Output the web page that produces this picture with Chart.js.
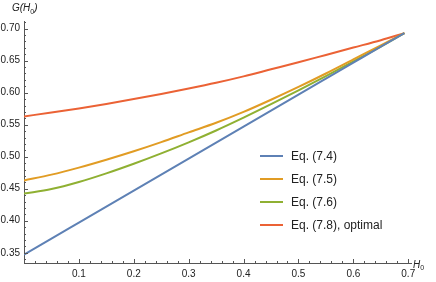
<!DOCTYPE html>
<html>
<head>
<meta charset="utf-8">
<script src="https://cdn.jsdelivr.net/npm/chart.js@4.4.0/dist/chart.umd.min.js"></script>
<style>
  html, body { margin: 0; padding: 0; background: #fff; }
</style>
</head>
<body>
<canvas id="chartG" width="436" height="282"></canvas>
<script>
// values
var h0 = [0, 0.05, 0.1, 0.15, 0.2, 0.25, 0.3, 0.35, 0.4, 0.45, 0.5, 0.55, 0.6, 0.65, 0.693];
var eq74 = [0.347, 0.372, 0.397, 0.422, 0.447, 0.472, 0.497, 0.522, 0.547, 0.572, 0.597, 0.622, 0.647, 0.672, 0.693];
var eq75 = [0.463, 0.472, 0.483, 0.4953, 0.5085, 0.5228, 0.538, 0.553, 0.570, 0.589, 0.609, 0.630, 0.652, 0.674, 0.693];
var eq76 = [0.4425, 0.4495, 0.4605, 0.474, 0.489, 0.5052, 0.5225, 0.541, 0.561, 0.582, 0.6038, 0.626, 0.6488, 0.672, 0.693];
var eq78 = [0.563, 0.569, 0.5755, 0.5825, 0.590, 0.598, 0.6065, 0.6155, 0.6255, 0.6365, 0.6475, 0.659, 0.6705, 0.682, 0.693];
var labels = ['Eq. (7.4)', 'Eq. (7.5)', 'Eq. (7.6)', 'Eq. (7.8), optimal'];
var colors = ['#5e81b5', '#e19c24', '#8fb032', '#eb6235'];

function pts(ys) {
  return h0.map(function (x, i) { return { x: x, y: ys[i] }; });
}

var axisColor = '#555';
var textColor = '#222';
var fontFam = 'Liberation Sans, Arial, sans-serif';

// inward ticks, axis titles and the inset legend
var decor = {
  id: 'decor',
  afterDraw: function (chart) {
    var c = chart.ctx, a = chart.chartArea;
    var xs = chart.scales.x, ys = chart.scales.y;
    c.save();
    c.strokeStyle = axisColor;
    c.lineWidth = 1;
    c.beginPath();
    for (var i = 1; i <= 35; i++) {
      var px = Math.round(xs.getPixelForValue(i * 0.02)) + 0.5;
      var len = (i % 5 === 0) ? 4 : 2;
      c.moveTo(px, a.bottom);
      c.lineTo(px, a.bottom - len);
    }
    for (var j = 34; j <= 71; j++) {
      var py = Math.round(ys.getPixelForValue(j * 0.01)) + 0.5;
      var l2 = (j % 5 === 0) ? 4 : 2;
      c.moveTo(a.left, py);
      c.lineTo(a.left + l2, py);
    }
    c.stroke();

    // axis titles
    c.fillStyle = textColor;
    c.textBaseline = 'alphabetic';
    c.textAlign = 'left';
    function sub(x, y, main, s) {
      c.font = 'italic 10px ' + fontFam;
      c.fillText(main, x, y);
      x += c.measureText(main).width;
      c.font = '7px ' + fontFam;
      c.fillText(s, x, y + 2.5);
      return x + c.measureText(s).width;
    }
    c.font = 'italic 10px ' + fontFam;
    c.fillText('G(', 12, 11);
    var nx = sub(12 + c.measureText('G(').width, 11, 'H', '0');
    c.font = 'italic 10px ' + fontFam;
    c.fillText(')', nx, 11);
    sub(413, 267.5, 'H', '0');

    // legend
    c.font = '12px ' + fontFam;
    c.textBaseline = 'middle';
    chart.data.datasets.forEach(function (ds, k) {
      var y = 156 + k * 23;
      c.strokeStyle = ds.borderColor;
      c.lineWidth = 2;
      c.beginPath();
      c.moveTo(260, y);
      c.lineTo(283, y);
      c.stroke();
      c.fillStyle = textColor;
      c.fillText(ds.label, 291, y + 0.5);
    });
    c.restore();
  }
};

var ctx = document.getElementById('chartG').getContext('2d');
var myChart = new Chart(ctx, {
  type: 'line',
  data: {
    datasets: [0, 1, 2, 3].map(function (k) {
      return {
        label: labels[k],
        data: pts([eq74, eq75, eq76, eq78][k]),
        borderColor: colors[k],
        borderWidth: 2,
        pointRadius: 0,
        fill: false,
        cubicInterpolationMode: 'monotone'
      };
    })
  },
  options: {
    responsive: false,
    animation: false,
    layout: { padding: { left: 0, top: 21, right: 25, bottom: 0 } },
    plugins: { legend: { display: false }, tooltip: { enabled: false } },
    scales: {
      x: {
        type: 'linear',
        min: 0,
        max: 0.705,
        afterFit: function (s) { s.height = 19; },
        grid: { display: false, drawTicks: false },
        border: { display: true, color: axisColor, width: 1 },
        ticks: {
          stepSize: 0.1,
          includeBounds: false,
          padding: 5,
          maxRotation: 0,
          autoSkip: false,
          color: textColor,
          font: { family: fontFam, size: 10 },
          callback: function (v) { return v < 0.05 ? '' : v.toFixed(1); }
        }
      },
      y: {
        min: 0.334,
        max: 0.712,
        afterFit: function (s) { s.width = 24; },
        grid: { display: false, drawTicks: false },
        border: { display: true, color: axisColor, width: 1 },
        ticks: {
          stepSize: 0.05,
          includeBounds: false,
          padding: 4,
          autoSkip: false,
          color: textColor,
          font: { family: fontFam, size: 10 },
          callback: function (v) { return v.toFixed(2); }
        }
      }
    }
  },
  plugins: [decor]
});
</script>
</body>
</html>
